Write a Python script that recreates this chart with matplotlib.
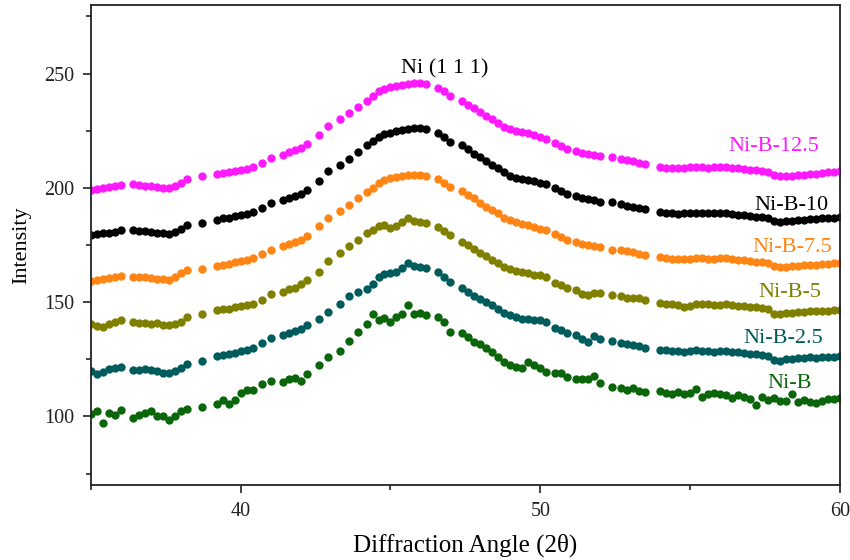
import matplotlib
matplotlib.use("Agg")
import matplotlib.pyplot as plt
from matplotlib.ticker import MultipleLocator

plt.rcParams['font.family'] = ['Liberation Serif', 'DejaVu Serif']

# diffraction angle (2 theta) sample positions
angle = [
    35.0, 35.2, 35.4, 35.6, 35.8, 36.0,
    36.4, 36.6, 36.8, 37.0, 37.2, 37.4, 37.6, 37.8, 38.0,
    38.2, 38.7,
    39.2, 39.4, 39.6, 39.8, 40.0,
    40.2, 40.4, 40.7, 41.0, 41.4, 41.6, 41.8, 42.0, 42.2, 42.6, 42.9, 43.3, 43.6, 43.9, 44.2, 44.4, 44.6, 44.8,
    45.0, 45.2, 45.4, 45.6, 45.8, 46.0, 46.2,
    46.6, 46.8, 47.0,
    47.4, 47.6, 47.8, 48.0, 48.2, 48.4, 48.6, 48.8, 49.0, 49.2, 49.4, 49.6, 49.8, 50.0,
    50.2, 50.5, 50.7, 50.9, 51.2, 51.4, 51.6, 51.8, 52.0, 52.4, 52.7, 52.9, 53.1, 53.3, 53.5, 54.0, 54.2, 54.4, 54.6, 54.8, 55.0,
    55.2, 55.4, 55.6, 55.8, 56.0, 56.2, 56.4, 56.6, 56.8, 57.0, 57.2, 57.4, 57.6, 57.8, 58.0, 58.2, 58.4, 58.6, 58.8, 59.0,
    59.2, 59.4, 59.6, 59.8, 60.0,
]

ni_b = [
    101.0, 102.4, 97.0, 101.6, 100.4, 102.8,
    99.4, 100.6, 101.4, 102.4, 100.2, 100.0, 98.6, 100.2, 102.4,
    103.2, 104.2,
    105.6, 107.0, 105.4, 107.2, 110.2,
    111.4, 111.6, 114.2, 115.6, 115.0, 116.2, 117.0, 115.4, 118.6, 122.6, 125.8, 128.8, 133.0, 136.8, 140.6, 145.0, 142.0, 143.2,
    141.2, 143.4, 144.8, 148.6, 144.6, 145.2, 144.4,
    143.4, 141.2, 136.8,
    136.6, 134.6, 132.6, 131.6, 129.8, 128.2, 125.8, 124.0, 122.6, 121.4, 121.0, 123.6, 122.4, 121.2,
    119.4, 118.8, 119.2, 117.4, 116.4, 116.2, 116.4, 117.6, 114.8, 112.8, 112.4, 111.6, 112.4, 111.2, 110.6, 111.0, 110.4, 109.8, 110.6, 110.0, 110.2,
    112.2, 108.4, 109.6, 110.2, 109.8, 109.2, 108.2, 109.4, 108.6, 107.4, 105.0, 108.6, 107.0, 108.2, 106.6, 106.8, 109.8, 106.4, 107.2, 106.2,
    105.8, 106.8, 107.4, 107.8, 108.0,
]

ni_b_2_5 = [
    120.0, 118.6, 119.6, 120.8, 121.0, 121.4,
    120.4, 120.2, 120.6, 120.2, 119.8, 119.2, 119.0, 120.0, 121.2,
    123.0, 124.4,
    126.4, 127.0, 127.2, 127.8, 128.6,
    129.2, 130.0, 132.2, 134.2, 135.4, 136.6, 137.4, 138.4, 140.0, 142.6, 145.6, 149.4, 152.8, 154.4, 155.6, 158.0, 161.0, 162.4,
    162.6, 163.2, 165.0, 167.0, 165.6, 165.2, 165.0,
    163.2, 160.8, 158.6,
    156.2, 154.6, 152.6, 151.4, 150.0, 148.6, 147.0, 145.2, 144.2, 143.4, 142.8, 142.6, 142.4, 142.0,
    141.2, 138.6, 137.6, 136.6, 135.4, 133.8, 132.4, 135.0, 134.0, 133.0, 132.0, 131.6, 131.2, 130.8, 129.8, 129.2, 129.0, 128.6, 128.4, 128.0, 128.4,
    129.0, 128.8, 128.6, 128.2, 128.4, 128.6, 128.2, 128.0, 127.8, 127.4, 127.2, 126.8, 126.6, 124.6, 124.4, 125.0, 125.2, 125.4, 125.6, 125.8,
    125.6, 125.8, 126.0, 126.2, 126.4,
]

ni_b_5 = [
    140.6, 139.4, 139.2, 140.4, 141.4, 142.0,
    141.2, 140.8, 141.0, 140.6, 140.8, 140.2, 140.0, 140.6, 141.2,
    143.4, 145.0,
    146.4, 147.0, 147.2, 147.8, 148.4,
    148.6, 149.4, 150.8, 153.6, 154.4, 155.6, 156.4, 157.8, 159.6, 163.4, 168.0, 171.4, 174.6, 177.2, 180.2, 181.6, 183.2, 183.6,
    182.6, 183.4, 185.0, 186.6, 185.6, 185.2, 184.6,
    182.8, 181.0, 179.4,
    176.4, 175.0, 173.4, 171.6, 170.2, 168.4, 167.0, 165.4, 164.6, 163.8, 163.0, 162.6, 162.0, 161.8,
    161.0, 158.4, 157.4, 156.0, 155.4, 153.4, 153.0, 154.2, 154.0, 153.0, 152.6, 152.0, 151.8, 151.6, 151.0, 149.6, 149.4, 149.0, 148.6, 147.8, 148.2,
    149.2, 149.4, 149.0, 148.8, 148.6, 149.0, 148.8, 148.4, 148.2, 148.0, 147.8, 147.6, 147.2, 145.0, 144.6, 145.2, 145.4, 145.6, 145.8, 146.0,
    146.2, 146.0, 146.2, 146.4, 146.4,
]

ni_b_7_5 = [
    159.4, 159.8, 160.2, 160.6, 161.0, 161.4,
    161.2, 161.0, 160.8, 160.6, 160.2, 160.0, 159.8, 160.8, 162.6,
    164.2, 164.6,
    165.6, 166.2, 166.8, 167.4, 168.0,
    168.6, 169.4, 171.2, 173.0, 174.6, 175.6, 176.4, 177.4, 179.0, 183.2, 187.0, 190.0, 192.6, 195.6, 198.0, 200.0, 202.2, 203.6,
    204.2, 204.8, 205.2, 205.6, 205.8, 205.8, 205.4,
    203.8, 202.0, 200.2,
    198.6, 197.0, 195.4, 193.4, 191.8, 190.2, 188.8, 187.0, 185.8, 185.0, 184.4, 183.8, 183.0, 182.2,
    181.6, 179.8, 178.6, 177.4, 176.4, 175.6, 175.0, 174.6, 174.2, 173.0, 172.6, 172.2, 171.8, 171.2, 170.8, 169.6, 169.2, 169.0, 168.8, 168.8, 169.0,
    169.2, 169.2, 169.0, 169.0, 169.2, 169.2, 168.8, 168.6, 168.4, 168.0, 167.6, 167.4, 167.2, 165.6, 165.2, 165.4, 165.6, 165.8, 166.2, 166.4,
    166.4, 166.6, 166.8, 167.0, 167.2,
]

ni_b_10 = [
    179.3, 179.6, 180.2, 180.4, 180.9, 181.4,
    181.6, 181.0, 181.2, 180.8, 180.4, 180.2, 180.0, 180.6, 182.0,
    183.8, 184.8,
    186.0, 186.6, 187.0, 187.6, 188.0,
    188.6, 189.4, 191.0, 193.2, 194.8, 195.6, 196.6, 197.4, 199.0, 203.0, 207.4, 210.0, 212.8, 215.6, 218.6, 220.4, 222.2, 223.6,
    224.2, 224.8, 225.2, 225.8, 226.2, 226.4, 225.6,
    224.0, 222.4, 220.2,
    218.6, 216.8, 215.0, 213.4, 211.6, 210.2, 208.6, 206.8, 205.4, 204.4, 204.0, 203.4, 202.8, 202.2,
    201.6, 199.8, 198.6, 197.2, 196.4, 195.6, 195.0, 194.6, 194.0, 193.6, 192.8, 192.2, 191.8, 191.2, 190.6, 189.4, 189.0, 188.8, 188.6, 188.8, 189.0,
    189.0, 189.0, 188.8, 189.0, 189.0, 188.8, 188.6, 188.2, 188.0, 187.8, 187.4, 187.4, 187.0, 185.6, 185.2, 185.4, 185.6, 185.8, 186.0, 186.2,
    186.4, 186.6, 186.8, 187.0, 187.2,
]

ni_b_12_5 = [
    199.0, 199.6, 200.1, 200.5, 200.9, 201.3,
    201.6, 201.2, 201.0, 200.7, 200.4, 200.0, 199.8, 200.6, 202.2,
    204.0, 205.2,
    206.0, 206.6, 207.0, 207.4, 207.9,
    208.4, 209.1, 211.0, 213.2, 214.4, 215.6, 216.4, 217.6, 219.2, 223.0, 227.2, 230.0, 232.6, 235.4, 238.2, 240.0, 242.2, 243.4,
    244.0, 244.6, 244.9, 245.4, 245.8, 246.1, 245.5,
    243.6, 242.2, 240.0,
    238.2, 236.4, 235.0, 233.2, 231.4, 230.0, 228.2, 226.6, 225.6, 225.0, 224.6, 224.0, 223.0, 222.2,
    221.4, 219.6, 218.2, 217.0, 216.2, 215.4, 215.0, 214.6, 214.0, 213.4, 212.6, 212.0, 211.6, 211.0, 210.6, 209.2, 208.8, 208.8, 208.6, 208.8, 209.0,
    209.2, 209.0, 208.8, 209.0, 209.2, 209.0, 208.8, 208.6, 208.2, 208.0, 207.6, 207.4, 207.0, 205.6, 205.0, 205.0, 205.2, 205.6, 205.8, 206.0,
    206.2, 206.6, 206.8, 207.0, 207.2,
]

names = ['Ni-B', 'Ni-B-2.5', 'Ni-B-5', 'Ni-B-7.5', 'Ni-B-10', 'Ni-B-12.5']
series = [ni_b, ni_b_2_5, ni_b_5, ni_b_7_5, ni_b_10, ni_b_12_5]
colors = ['#0b660b', '#005c5c', '#7f7f00', '#ff8514', '#000000', '#ff19ff']
# where each name sits (x, y in data units)
label_x = [58.33, 58.1, 58.33, 58.4, 58.37, 57.8]
label_y = [114.5, 134.3, 154.0, 173.9, 192.4, 218.3]

fig = plt.figure(figsize=(8.5, 5.6), dpi=100)
ax = fig.add_axes([0.107, 0.134, 0.881, 0.857])

for name, ys, c, lx, ly in zip(names, series, colors, label_x, label_y):
    ax.plot(angle, ys, 'o', ms=6.0, mew=0, color=c, linestyle='none')
    ax.text(lx, ly, name, color=c, fontsize=16, ha='center', va='center')

ax.text(46.8, 252.0, 'Ni (1 1 1)', fontsize=16, ha='center', va='center')

ax.set_xlim(35, 60)
ax.set_ylim(70, 280)
ax.xaxis.set_major_locator(MultipleLocator(10))
ax.xaxis.set_minor_locator(MultipleLocator(5))
ax.yaxis.set_major_locator(MultipleLocator(50))
ax.yaxis.set_minor_locator(MultipleLocator(25))
ax.tick_params(which='both', direction='out', width=1.2, labelsize=14.5, colors='#222222')
ax.tick_params(which='major', length=6, pad=6)
ax.tick_params(which='minor', length=3.5)
for sp in ax.spines.values():
    sp.set_linewidth(1.3)
    sp.set_color('#222222')

ax.set_xlabel('Diffraction Angle (2θ)', fontsize=18, labelpad=9)
ax.set_ylabel('Intensity', fontsize=16, labelpad=9)

fig.savefig('out.png', dpi=100)
